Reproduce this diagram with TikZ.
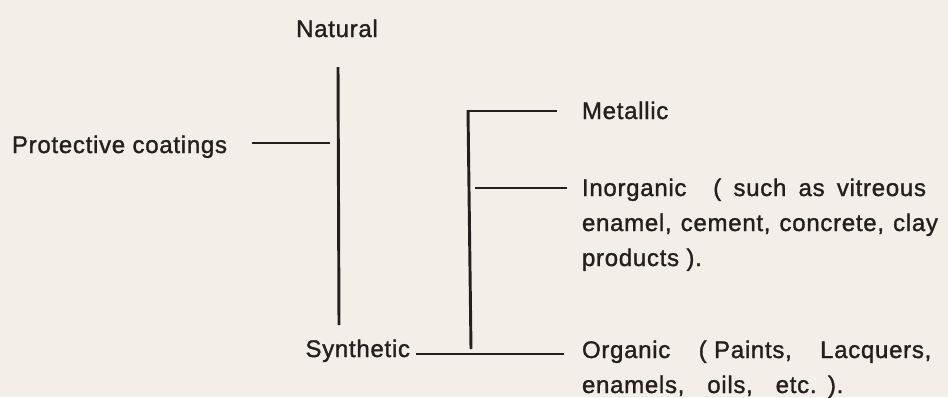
\documentclass[tikz,border=0pt]{standalone}
\usepackage{fontspec}
\setmainfont{Liberation Sans}[LetterSpace=3,FakeBold=1.3]
\definecolor{paper}{RGB}{243,239,232}
\definecolor{ink}{RGB}{36,30,30}
\newcommand{\linestack}[1]{\vtop{\baselineskip=26.25pt\lineskiplimit=-100pt\lineskip=0pt #1}}
\newcommand{\gapw}[1]{\hskip 0pt plus #1fil\ }
\frenchspacing
\begin{document}
\begin{tikzpicture}[x=0.75pt,y=-0.75pt,
  every node/.style={inner sep=0pt,outer sep=0pt,text=ink,font=\fontsize{18pt}{21pt}\selectfont\frenchspacing},
  bar/.style={draw=ink,line width=2.2pt}]
\fill[paper] (0,0) rectangle (948,397);
\useasboundingbox (0,0) rectangle (948,397);
% labels
\node[anchor=base] (nat) at (337,37) {Natural};
\node[anchor=base west] (prot) at (12,153) {Protective coatings};
\node[anchor=base east] (syn) at (410,357) {Synthetic};
\node[anchor=base west] (met) at (582,119) {Metallic};
\node[anchor=base west] (inorg) at (582,196) {\linestack{%
  \hbox to 258pt{Inorganic\gapw{4}(\gapw{1}such\gapw{1}as\gapw{1}vitreous}
  \hbox to 267pt{enamel, cement, concrete, clay}
  \hbox{products ).}}};
\node[anchor=base west] (org) at (582,358) {\linestack{%
  \hbox to 262pt{Organic\gapw{1}( Paints,\gapw{1}Lacquers,}
  \hbox to 196pt{enamels,\gapw{1}oils,\gapw{1}etc.\hskip 3pt\ ).}}};
% bracket coordinates
\coordinate (v1t) at (338,67);
\coordinate (v1b) at (339,325);
\coordinate (v2t) at (468,110);
\coordinate (v2b) at (471,349);
\coordinate (pa) at (252,143);
\coordinate (pb) at (330,143);
\coordinate (ma) at (469,111);
\coordinate (mb) at (557,111);
\coordinate (ia) at (475,188);
\coordinate (ib) at (567,188);
\coordinate (sa) at (416,354);
\coordinate (sb) at (564,354);
% connectors
\draw[bar] (v1t) -- (v1b);
\draw[bar] (v2t) -- (v2b);
\draw[bar] (pa) -- (pb);
\draw[bar] (ma) -- (mb);
\draw[bar] (ia) -- (ib);
\draw[bar] (sa) -- (sb);
\end{tikzpicture}
\end{document}
